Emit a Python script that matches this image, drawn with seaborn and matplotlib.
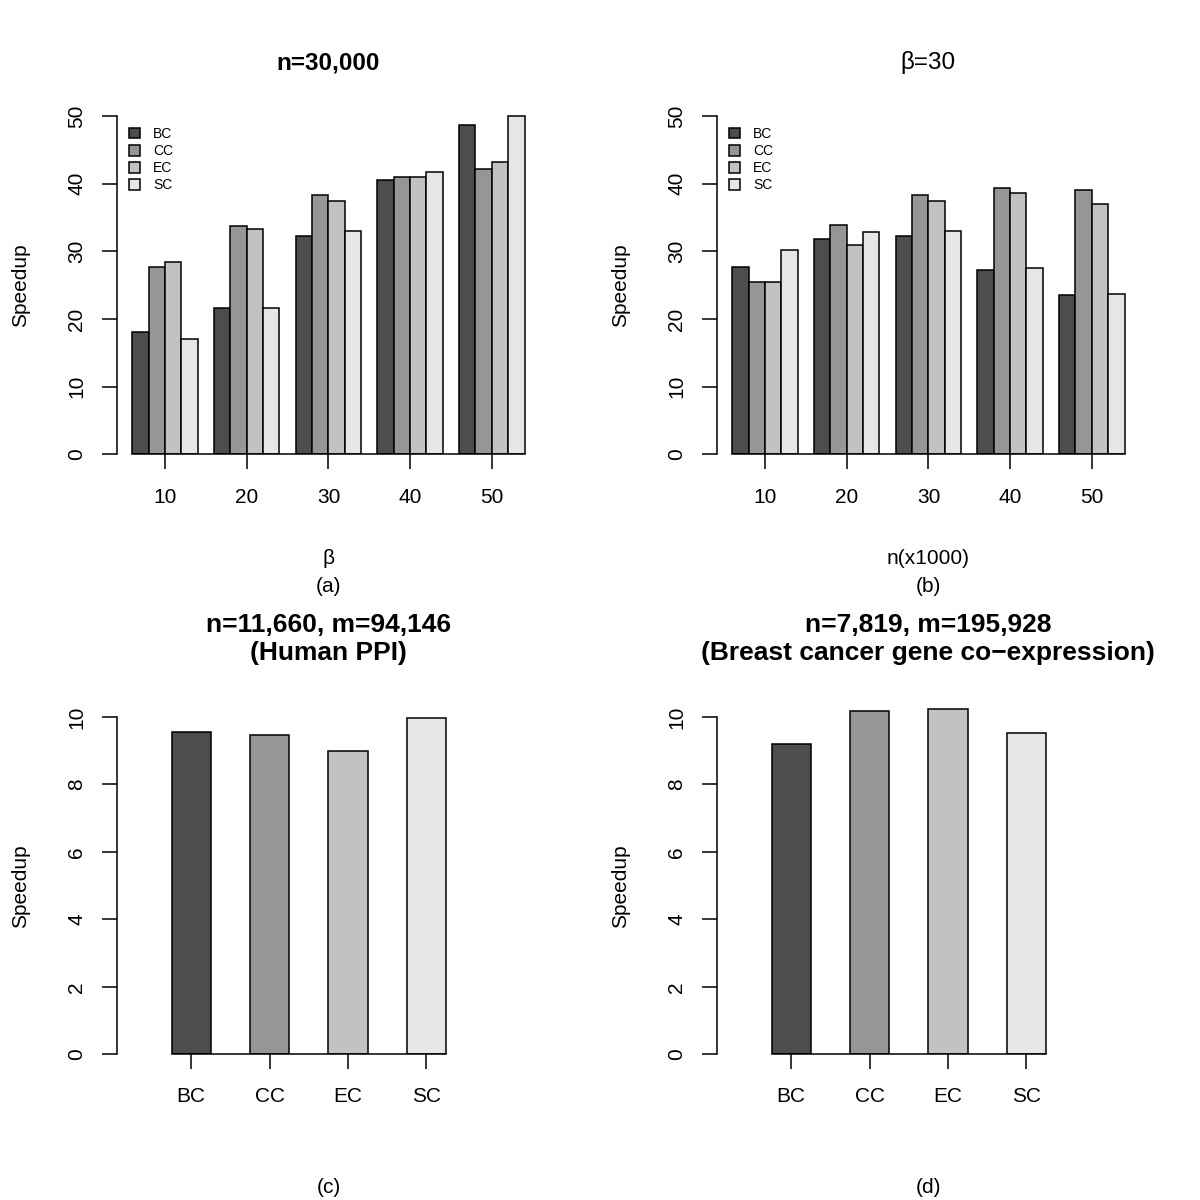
import matplotlib
matplotlib.use("Agg")
import matplotlib.pyplot as plt
import seaborn as sns
import pandas as pd

sns.set_style("ticks")
plt.rcParams["font.family"] = ["Liberation Sans", "DejaVu Sans"]
plt.rcParams["text.color"] = "black"
plt.rcParams["axes.labelcolor"] = "black"

# ── data ──
methods = ["BC", "CC", "EC", "SC"]
group_labels = ["10", "20", "30", "40", "50"]
greys = ["#4D4D4D", "#969696", "#C2C2C2", "#E6E6E6"]

# (a) n=30,000, varying beta
bc_beta = [18.1, 21.7, 32.3, 40.5, 48.6]
cc_beta = [27.7, 33.7, 38.3, 41.0, 42.2]
ec_beta = [28.4, 33.3, 37.5, 41.0, 43.2]
sc_beta = [17.0, 21.7, 33.0, 41.7, 50.0]

# (b) beta=30, varying n (x1000)
bc_n = [27.7, 31.8, 32.3, 27.3, 23.6]
cc_n = [25.5, 33.9, 38.3, 39.3, 39.0]
ec_n = [25.5, 30.9, 37.5, 38.7, 37.0]
sc_n = [30.2, 32.9, 33.0, 27.5, 23.7]

# (c) Human PPI, (d) breast cancer co-expression
ppi = [9.57, 9.46, 9.00, 9.97]
breast = [9.19, 10.19, 10.23, 9.52]


def long_df(series):
    rows = []
    for m, vals in zip(methods, series):
        for g, v in zip(group_labels, vals):
            rows.append({"group": g, "method": m, "speedup": v})
    return pd.DataFrame(rows)


df_a = long_df([bc_beta, cc_beta, ec_beta, sc_beta])
df_b = long_df([bc_n, cc_n, ec_n, sc_n])
df_c = pd.DataFrame({"method": methods, "speedup": ppi})
df_d = pd.DataFrame({"method": methods, "speedup": breast})

W = H = 1200.0
fig = plt.figure(figsize=(12, 12), dpi=100)


def px_axes(left, right, top, bottom):
    return fig.add_axes([left / W, 1 - bottom / H, (right - left) / W, (bottom - top) / H])


def fx(x):
    return x / W


def fy(y):
    return 1 - y / H


def style_axes(ax, ymax_tick, yticks, bar_lo, bar_hi):
    sns.despine(ax=ax, top=True, right=True)
    ax.spines["left"].set_bounds(0, ymax_tick)
    ax.spines["bottom"].set_bounds(bar_lo, bar_hi)
    for s in ("left", "bottom"):
        ax.spines[s].set_linewidth(1.1)
        ax.spines[s].set_color("black")
    ax.set_yticks(yticks)
    ax.set_yticklabels([str(t) for t in yticks], rotation=90, va="center")
    ax.tick_params(axis="both", direction="out", length=10.8, width=1.1,
                   colors="black", labelsize=15)
    ax.tick_params(axis="y", pad=11)
    ax.tick_params(axis="x", pad=13)
    ax.set_xlabel("")
    ax.set_ylabel("")


# ── top row: grouped bars ──
for df, left, title, bold, xlab, tag in [
    (df_a, 116.7, "n=30,000", True, "β", "(a)"),
    (df_b, 716.7, "β=30", False, "n(x1000)", "(b)"),
]:
    ax = px_axes(left, left + 423.5, 454.5 - 52 * 6.77, 454.5)
    sns.barplot(data=df, x="group", y="speedup", hue="method", order=group_labels,
                hue_order=methods, palette=greys, edgecolor="black", linewidth=1.1,
                errorbar=None, width=0.8, ax=ax)
    ax.set_xlim(-0.592, 4.592)
    ax.set_ylim(0, 52)
    style_axes(ax, 50, [0, 10, 20, 30, 40, 50], -0.4, 4.4)
    sns.move_legend(ax, "upper left", bbox_to_anchor=(fx(left + 12), fy(127)),
                    bbox_transform=fig.transFigure, frameon=False, title=None,
                    fontsize=10, handlelength=0.8, handleheight=0.8,
                    labelspacing=0.22, handletextpad=0.95, borderpad=0, borderaxespad=0)
    cx = fx(left + 211.7)
    fig.text(cx, fy(69.3), title, ha="center", va="baseline", fontsize=17.5,
             fontweight="bold" if bold else "normal")
    fig.text(cx, fy(563.5), xlab, ha="center", va="baseline", fontsize=15)
    fig.text(cx, fy(592.3), tag, ha="center", va="baseline", fontsize=15)
    fig.text(fx(left - 96), fy(285.5), "Speedup", rotation=90, ha="center",
             va="center", fontsize=15)

# ── bottom row: single bars ──
for df, left, line1, line2, tag in [
    (df_c, 116.7, "n=11,660, m=94,146", "(Human PPI)", "(c)"),
    (df_d, 716.7, "n=7,819, m=195,928", "(Breast cancer gene co\u2212expression)", "(d)"),
]:
    ax = px_axes(left, left + 423.4, 1054.3 - 10.6 * 33.73, 1054.3)
    sns.barplot(data=df, x="method", y="speedup", hue="method", order=methods,
                hue_order=methods, palette=greys, edgecolor="black", linewidth=1.1,
                errorbar=None, width=0.5, legend=False, ax=ax)
    ax.set_xlim(-0.95, 4.45)
    ax.set_ylim(0, 10.6)
    style_axes(ax, 10, [0, 2, 4, 6, 8, 10], -0.25, 3.25)
    cx = fx(left + 211.7)
    fig.text(cx, fy(631.7), line1, ha="center", va="baseline", fontsize=19,
             fontweight="bold")
    fig.text(cx, fy(660), line2, ha="center", va="baseline", fontsize=19,
             fontweight="bold")
    fig.text(cx, fy(1193), tag, ha="center", va="baseline", fontsize=15)
    fig.text(fx(left - 96), fy(885.7), "Speedup", rotation=90, ha="center",
             va="center", fontsize=15)

plt.savefig("out.png", dpi=100)
plt.close()
